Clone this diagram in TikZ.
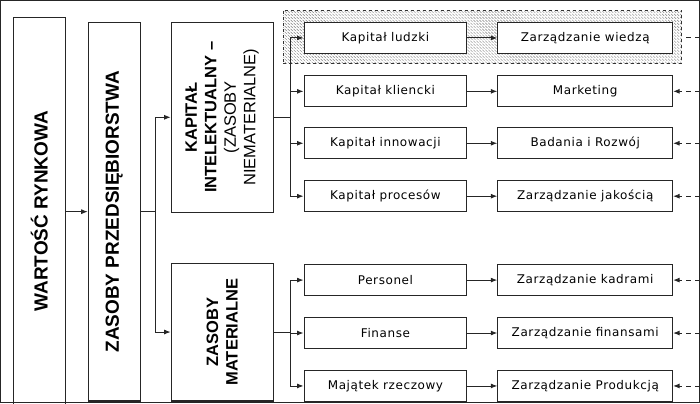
\documentclass[tikz,border=0pt]{standalone}
\usepackage{fontspec}
\usepackage{tikz}
\usetikzlibrary{positioning}
\usetikzlibrary{arrows.meta}
\usetikzlibrary{patterns}
\newfontfamily\headfont{Liberation Sans}
\newfontfamily\boxfont[LetterSpace=5]{DejaVu Sans}
\definecolor{lgray}{rgb}{0.5, 0.5, 0.5}
\tikzset{arr/.style = {-{Latex[length=6.5pt,width=5pt]}}}
\tikzset{bigbox/.style = {draw, line width=1.2pt, inner sep=0}}
\tikzset{smallbox/.style = {draw, fill=white, line width=1.1pt,
                            minimum height=31pt, inner sep=0,
                            font=\boxfont\fontsize{12}{14}\selectfont}}
\tikzset{leftbox/.style = {smallbox, minimum width=163pt}}
\tikzset{rightbox/.style = {smallbox, minimum width=175pt}}
\tikzset{headtext/.style = {rotate=90, align=center, inner sep=0,
                            font=\headfont\bfseries\fontsize{19}{22}\selectfont}}
\tikzset{midtext/.style = {rotate=90, align=center, inner sep=0,
                           font=\headfont\fontsize{16.5}{19.5}\selectfont}}
\tikzset{
  every picture/.style={
    every path/.style={line width=0.9pt, draw=black!85},
  }
}
\begin{document}
\begin{tikzpicture}[x=1pt, y=-1pt]
      \useasboundingbox (0,0) rectangle (700,403);
      \node[draw=black!80, dashed, line width=0.9pt,
            pattern=north west lines, pattern color=lgray,
            minimum width=399pt, minimum height=53pt, inner sep=0]
        (hatch) at (482.5,36.5) {};
      \node[bigbox, minimum width=52pt, minimum height=388pt]
        (wart) at (39,211) {};
      \node[headtext] (wart-t) at (wart.center) {WARTOŚĆ RYNKOWA};
      \node[bigbox, minimum width=52pt, minimum height=379pt]
        (zas) at (114,211.5) {};
      \node[headtext] (zas-t) at (zas.center) {ZASOBY PRZEDSIĘBIORSTWA};
      \node[bigbox, minimum width=102pt, minimum height=190pt]
        (intel) at (222,117) {};
      \node[midtext] (intel-t) at (intel.center)
        {\textbf{KAPITAŁ}\\\textbf{INTELEKTUALNY –}\\(ZASOBY\\NIEMATERIALNE)};
      \node[bigbox, minimum width=102pt, minimum height=138pt]
        (mat) at (222,332) {};
      \node[midtext] (mat-t) at (mat.center)
        {\textbf{ZASOBY}\\\textbf{MATERIALNE}};
      \node[leftbox] (k1) at (385.5,37.5) {Kapitał ludzki};
      \node[leftbox] (k2) at (385.5,91) {Kapitał kliencki};
      \node[leftbox] (k3) at (385.5,143) {Kapitał innowacji};
      \node[leftbox] (k4) at (385.5,196) {Kapitał procesów};
      \node[leftbox] (k5) at (385.5,280) {Personel};
      \node[leftbox] (k6) at (385.5,333) {Finanse};
      \node[leftbox] (k7) at (385.5,386) {Majątek rzeczowy};
      \node[rightbox] (z1) at (585.5,37.5) {Zarządzanie wiedzą};
      \node[rightbox] (z2) at (585.5,91) {Marketing};
      \node[rightbox] (z3) at (585.5,143) {Badania i Rozwój};
      \node[rightbox] (z4) at (585.5,196) {Zarządzanie jakością};
      \node[rightbox] (z5) at (585.5,280) {Zarządzanie kadrami};
      \node[rightbox] (z6) at (585.5,333) {Zarządzanie finansami};
      \node[rightbox] (z7) at (585.5,386) {Zarządzanie Produkcją};
      \coordinate (b1) at (155,211.5);
      \coordinate (b2) at (290,117);
      \coordinate (b3) at (290,332);
      \draw[arr] (wart.east |- zas.west) -- (zas.west);
      \draw (zas.east) -- (b1);
      \draw[arr] (b1) |- (intel.west);
      \draw[arr] (b1) |- (mat.west);
      \draw (intel.east) -- (b2);
      \draw (mat.east) -- (b3);
      \foreach \i in {1,2,3,4} {
        \draw[arr] (b2) |- (k\i.west);
      }
      \foreach \i in {5,6,7} {
        \draw[arr] (b3) |- (k\i.west);
      }
      \foreach \i in {1,...,7} {
        \draw[arr] (k\i.east) -- (z\i.west);
      }
      \coordinate (e1) at (700,37.5);
      \draw[dash pattern=on 5pt off 4pt] (e1) -- (e1 -| hatch.east);
      \foreach \i in {2,...,7} {
        \coordinate (e\i) at (z\i.east -| e1);
        \draw[arr, dash pattern=on 5pt off 4pt] (e\i) -- (z\i.east);
      }
    \end{tikzpicture}
\end{document}
